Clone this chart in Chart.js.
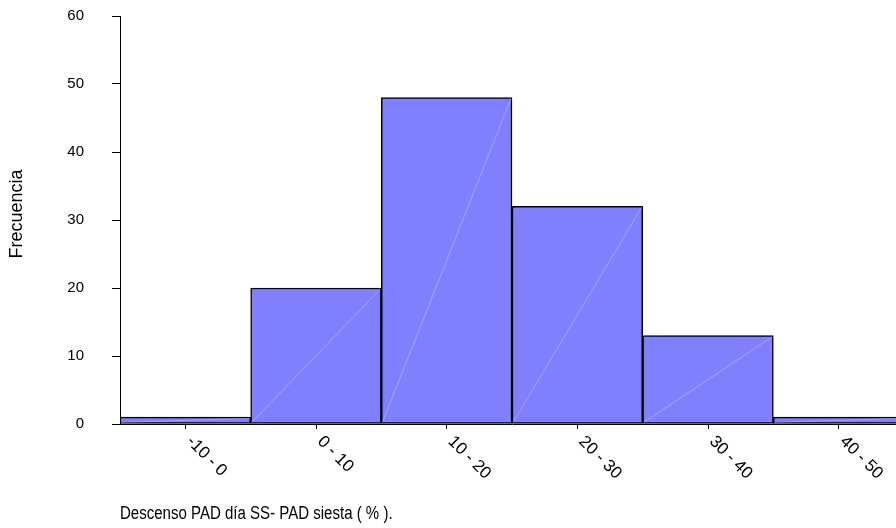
<!DOCTYPE html>
<html>
<head>
<meta charset="utf-8">
<script src="https://cdn.jsdelivr.net/npm/chart.js@4.4.1/dist/chart.umd.min.js"></script>
<style>
  html, body { margin: 0; padding: 0; background: #fff; overflow: hidden; }
  canvas { display: block; }
</style>
</head>
<body>
<canvas id="hist" width="904" height="528"></canvas>
<script>
const classLabels = ["-10 - 0", "0 - 10", "10 - 20", "20 - 30", "30 - 40", "40 - 50"];
const frequencies = [1, 20, 48, 32, 13, 1];
const yTicks = [0, 10, 20, 30, 40, 50, 60];
const xTitle = "Descenso PAD día SS- PAD siesta ( % ).";
const yTitle = "Frecuencia";

const FONT = '"Liberation Sans", Arial, sans-serif';

// faint diagonal seam running through each bar
const seams = {
  id: "seams",
  afterDatasetsDraw(chart) {
    const ctx = chart.ctx;
    ctx.save();
    ctx.strokeStyle = "rgba(255,255,255,0.28)";
    ctx.lineWidth = 1;
    chart.getDatasetMeta(0).data.forEach((bar) => {
      const half = bar.width / 2;
      ctx.beginPath();
      ctx.moveTo(bar.x - half + 1, bar.base - 1);
      ctx.lineTo(bar.x + half - 1, bar.y + 1);
      ctx.stroke();
    });
    ctx.restore();
  },
};

// rotated category labels and axis titles
const labelsAndTitles = {
  id: "labelsAndTitles",
  afterDraw(chart) {
    const ctx = chart.ctx;
    const xs = chart.scales.x;
    const area = chart.chartArea;
    ctx.save();
    ctx.fillStyle = "#000";
    ctx.font = "17px " + FONT;
    ctx.textAlign = "left";
    ctx.textBaseline = "middle";
    classLabels.forEach((lab, i) => {
      const px = xs.getPixelForTick(i);
      ctx.save();
      ctx.translate(px + 4, area.bottom + 15);
      ctx.rotate(Math.PI / 4);
      ctx.fillText(lab, 0, 0);
      ctx.restore();
    });

    ctx.font = "18px " + FONT;
    ctx.save();
    ctx.translate(17, 214);
    ctx.rotate(-Math.PI / 2);
    ctx.textAlign = "center";
    ctx.fillText(yTitle, 0, 0);
    ctx.restore();

    // axis title is set a little narrow
    ctx.save();
    ctx.translate(area.left, 514);
    ctx.scale(0.835, 1);
    ctx.textAlign = "left";
    ctx.fillText(xTitle, 0, 0);
    ctx.restore();
    ctx.restore();
  },
};

new Chart(document.getElementById("hist"), {
  type: "bar",
  data: {
    labels: classLabels,
    datasets: [
      {
        data: frequencies,
        backgroundColor: "#8080ff",
        borderColor: "#000",
        borderWidth: 1.5,
        borderSkipped: false,
        barPercentage: 1,
        categoryPercentage: 1,
      },
    ],
  },
  options: {
    responsive: false,
    animation: false,
    layout: { padding: { top: 16, left: 0, right: 0, bottom: 0 } },
    plugins: { legend: { display: false }, tooltip: { enabled: false } },
    scales: {
      x: {
        grid: { display: true, drawOnChartArea: false, offset: false, tickLength: 5, color: "#000" },
        border: { display: true, color: "#000", width: 1 },
        ticks: { color: "rgba(0,0,0,0)", autoSkip: false, maxRotation: 0, minRotation: 0, font: { size: 15, family: FONT } },
        afterFit: (s) => { s.height = 104; s.paddingLeft = 0; s.paddingRight = 0; },
      },
      y: {
        min: yTicks[0],
        max: yTicks[yTicks.length - 1],
        grid: { display: true, drawOnChartArea: false, tickLength: 8, color: "#000" },
        border: { display: true, color: "#000", width: 1 },
        ticks: { stepSize: yTicks[1] - yTicks[0], color: "#000", padding: 28, font: { size: 15, family: FONT } },
        afterFit: (s) => { s.width = 120; s.paddingTop = 0; s.paddingBottom = 0; },
      },
    },
  },
  plugins: [seams, labelsAndTitles],
});
</script>
</body>
</html>
